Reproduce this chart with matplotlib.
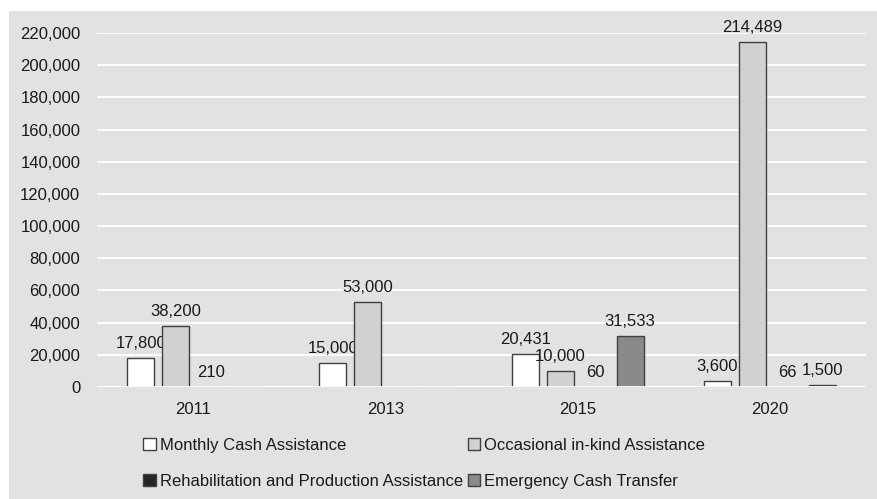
import numpy as np
import matplotlib.pyplot as plt
from matplotlib.patches import Rectangle, Patch

plt.rcParams['font.family'] = ['Liberation Sans', 'DejaVu Sans']
plt.rcParams['font.size'] = 12

years = ['2011', '2013', '2015', '2020']
monthly = [17800, 15000, 20431, 3600]
occasional = [38200, 53000, 10000, 214489]
rehab = [210, np.nan, 60, 66]
emergency = [np.nan, np.nan, 31533, 1500]

series = [
    ('Monthly Cash Assistance', monthly, '#ffffff'),
    ('Occasional in-kind Assistance', occasional, '#d0d1d0'),
    ('Rehabilitation and Production Assistance', rehab, '#262626'),
    ('Emergency Cash Transfer', emergency, '#8a8a8a'),
]

bg = '#e2e2e2'
edge = '#404040'
txt = '#1a1a1a'

fig = plt.figure(figsize=(8.77, 4.99), dpi=100)
fig.patch.set_facecolor('white')
fig.patches.append(Rectangle((9 / 877, 0), 1, 488 / 499, transform=fig.transFigure,
                             facecolor=bg, edgecolor='none', zorder=-10))

ax = fig.add_axes([97 / 877, 1 - 387 / 499, 769 / 877, 354 / 499])
ax.set_facecolor(bg)

x = np.arange(len(years))
width = 0.14
step = 0.182
handles = {}
for i, (name, vals, col) in enumerate(series):
    pos = x + (i - 1.5) * step
    v = np.array(vals, dtype=float)
    ax.bar(pos, np.nan_to_num(v), width, color=col, edgecolor=edge, linewidth=1.0, zorder=3)
    handles[name] = Patch(facecolor=col, edgecolor=edge, linewidth=1.0)
    for p, val in zip(pos, v):
        if np.isnan(val):
            continue
        ax.annotate(f'{int(val):,}', (p, val), xytext=(0, 5), textcoords='offset points',
                    ha='center', va='bottom', color=txt, fontsize=12)

ax.set_ylim(0, 220000)
ax.set_xlim(-0.5, len(years) - 0.5)
ax.set_yticks(range(0, 220001, 20000))
ax.yaxis.set_major_formatter(plt.FuncFormatter(lambda v, _: f'{int(v):,}'))
ax.set_xticks(x)
ax.set_xticklabels(years)
ax.tick_params(length=0, colors=txt, labelsize=12)
ax.tick_params(axis='y', pad=12)
ax.tick_params(axis='x', pad=11)
ax.grid(axis='y', color='white', linewidth=1.3, zorder=0)
ax.set_axisbelow(True)
for s in ax.spines.values():
    s.set_visible(False)
ax.axhline(0, color='white', linewidth=2, zorder=4)

# legend: two columns, filled column by column
order = ['Monthly Cash Assistance', 'Rehabilitation and Production Assistance',
         'Occasional in-kind Assistance', 'Emergency Cash Transfer']
fig.legend([handles[n] for n in order], order, ncol=2, loc='upper left',
           bbox_to_anchor=(143 / 877, 1 - 438 / 499), frameon=False,
           handlelength=0.75, handleheight=0.75, handletextpad=0.25,
           columnspacing=0.3, labelspacing=1.25, borderpad=0, borderaxespad=0,
           labelcolor=txt, fontsize=12)

fig.savefig('out.png', dpi=100, facecolor=fig.get_facecolor())
